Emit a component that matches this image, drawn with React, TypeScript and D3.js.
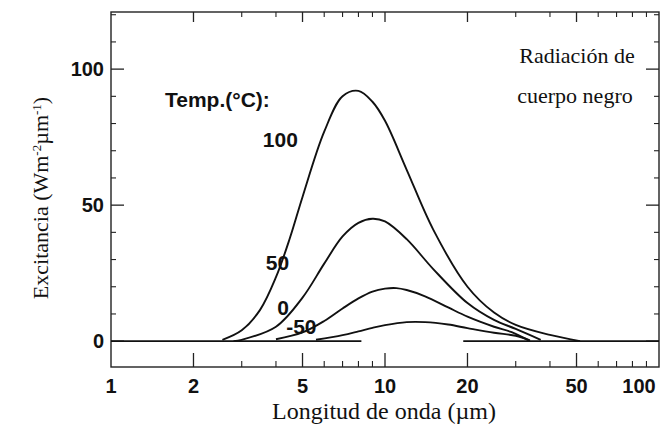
import React from 'react';
import * as d3 from 'd3';

// wavelength (µm) and exitance (W m-2 µm-1)
const wl100 = [2.55, 3, 3.5, 4, 4.5, 5, 6, 7, 8, 9, 10, 12, 15, 20, 25, 30, 40, 51.5];
const ex100 = [0.5, 4, 11.5, 23.5, 38, 53, 77, 90, 92, 88, 81, 63, 41, 20, 10.5, 6, 2.3, 0];

const wl50 = [2.8, 3, 4, 5, 6, 7, 8, 9, 10, 12, 15, 20, 25, 30, 37];
const ex50 = [0, 0.5, 5.3, 16, 28.5, 38.5, 43.5, 45, 44, 37.5, 26.5, 14, 7.8, 4.5, 0.5];

const wl0 = [4, 5, 6, 7, 8, 9, 10, 11, 12, 14, 17, 20, 25, 29, 33.8];
const ex0 = [0.7, 3.2, 7.4, 12, 15.7, 18.2, 19.3, 19.5, 18.8, 16.5, 12.4, 9, 5.3, 3.3, 0];

const wlm50 = [5.6, 7, 8, 9, 10, 12, 14, 17, 20, 25, 30, 33.8];
const exm50 = [0.5, 2.2, 3.6, 4.9, 5.9, 7.0, 7.0, 6.1, 4.8, 3.1, 2.0, 0.3];

// baseline pieces at zero (left and right of the curves)
const baseSegments = [[1, 8.2], [19.3, 100]];

const xTicks = [1, 2, 5, 10, 20, 50, 100];
const yTicks = [0, 50, 100];
const yMinor = [10, 20, 30, 40, 60, 70, 80, 90, 110, 120];

const curveLabels = [
  { text: '100', wl: 4.15, ex: 74 },
  { text: '50', wl: 4.05, ex: 29 },
  { text: '0', wl: 4.25, ex: 12.5 },
  { text: '-50', wl: 4.95, ex: 5.2 },
];

const series = [
  { wl: wl100, ex: ex100 },
  { wl: wl50, ex: ex50 },
  { wl: wl0, ex: ex0 },
  { wl: wlm50, ex: exm50 },
];

const W = 663;
const H = 442;
const left = 111, right = 659, top = 12, bottom = 367;

export default function App() {
  const x = d3.scaleLog().domain([1, 100]).range([left, right]);
  const y = d3.scaleLinear().domain([-9.5, 121]).range([bottom, top]);

  const line = d3.line<[number, number]>()
    .x(d => x(d[0]))
    .y(d => y(d[1]))
    .curve(d3.curveCatmullRom.alpha(0.5));

  const minorX: number[] = [];
  for (const dec of [1, 10]) {
    for (let k = 2; k <= 9; k++) {
      const v = dec * k;
      if (!xTicks.includes(v)) minorX.push(v);
    }
  }

  const sans = '"Liberation Sans", Arial, sans-serif';
  const serif = '"Liberation Serif", "Times New Roman", serif';
  const frameColor = '#222';

  return (
    <div style={{ position: 'absolute', left: 0, top: 0 }}>
      <svg width={W} height={H} style={{ display: 'block', background: '#fff' }}>
        {/* frame */}
        <rect x={left} y={top} width={right - left} height={bottom - top}
          fill="none" stroke={frameColor} strokeWidth={1.4} />

        {/* y ticks, both sides pointing in */}
        {yTicks.map(t => (
          <g key={'yt' + t}>
            <line x1={left} x2={left + 13} y1={y(t)} y2={y(t)} stroke={frameColor} strokeWidth={1.3} />
            <line x1={right} x2={right - 13} y1={y(t)} y2={y(t)} stroke={frameColor} strokeWidth={1.3} />
          </g>
        ))}
        {yMinor.map(t => (
          <g key={'ym' + t}>
            <line x1={left} x2={left + 5} y1={y(t)} y2={y(t)} stroke={frameColor} strokeWidth={1.1} />
            <line x1={right} x2={right - 5} y1={y(t)} y2={y(t)} stroke={frameColor} strokeWidth={1.1} />
          </g>
        ))}

        {/* x ticks, bottom and top pointing in */}
        {xTicks.slice(1, -1).map(t => (
          <g key={'xt' + t}>
            <line x1={x(t)} x2={x(t)} y1={bottom} y2={bottom - 14} stroke={frameColor} strokeWidth={1.3} />
            <line x1={x(t)} x2={x(t)} y1={top} y2={top + 10} stroke={frameColor} strokeWidth={1.3} />
          </g>
        ))}
        {minorX.map(t => (
          <g key={'xm' + t}>
            <line x1={x(t)} x2={x(t)} y1={bottom} y2={bottom - 6} stroke={frameColor} strokeWidth={1.1} />
            <line x1={x(t)} x2={x(t)} y1={top} y2={top + 5} stroke={frameColor} strokeWidth={1.1} />
          </g>
        ))}

        {/* zero baseline */}
        {baseSegments.map((s, i) => (
          <line key={'b' + i} x1={x(s[0])} x2={x(s[1])} y1={y(0)} y2={y(0)}
            stroke="#111" strokeWidth={1.8} />
        ))}

        {/* curves */}
        {series.map((s, i) => (
          <path key={'c' + i}
            d={line(s.wl.map((w, j) => [w, s.ex[j]] as [number, number])) || ''}
            fill="none" stroke="#111" strokeWidth={1.9} />
        ))}

        {/* tick labels */}
        {yTicks.map(t => (
          <text key={'yl' + t} x={left - 7} y={y(t)} dy="0.35em" textAnchor="end"
            fontFamily={sans} fontWeight="bold" fontSize={20} fill="#111">{t}</text>
        ))}
        {xTicks.map(t => (
          <text key={'xl' + t} x={t === 100 ? x(t) - 20 : x(t)} y={386} dy="0.35em" textAnchor="middle"
            fontFamily={sans} fontWeight="bold" fontSize={20} fill="#111">{t}</text>
        ))}

        {/* axis titles */}
        <text x={384} y={411} dy="0.35em" textAnchor="middle" fontFamily={serif} fontSize={24} fill="#111">
          Longitud de onda (µm)
        </text>
        <text transform="translate(40,198) rotate(-90)" textAnchor="middle" dy="0.35em"
          fontFamily={serif} fontSize={22} fill="#111">
          Excitancia (Wm<tspan baselineShift="super" fontSize={13}>-2</tspan>µm<tspan baselineShift="super" fontSize={13}>-1</tspan>)
        </text>

        {/* annotations */}
        <text x={577} y={55} dy="0.35em" textAnchor="middle" fontFamily={serif} fontSize={22} fill="#111">Radiación de</text>
        <text x={575} y={95} dy="0.35em" textAnchor="middle" fontFamily={serif} fontSize={22} fill="#111">cuerpo negro</text>
        <text x={165} y={100} dy="0.35em" fontFamily={sans} fontWeight="bold" fontSize={21} fill="#111">Temp.(°C):</text>
        {curveLabels.map(l => (
          <text key={'cl' + l.text} x={x(l.wl)} y={y(l.ex)} dy="0.35em" textAnchor="middle"
            fontFamily={sans} fontWeight="bold" fontSize={21} fill="#111">{l.text}</text>
        ))}
      </svg>
    </div>
  );
}
